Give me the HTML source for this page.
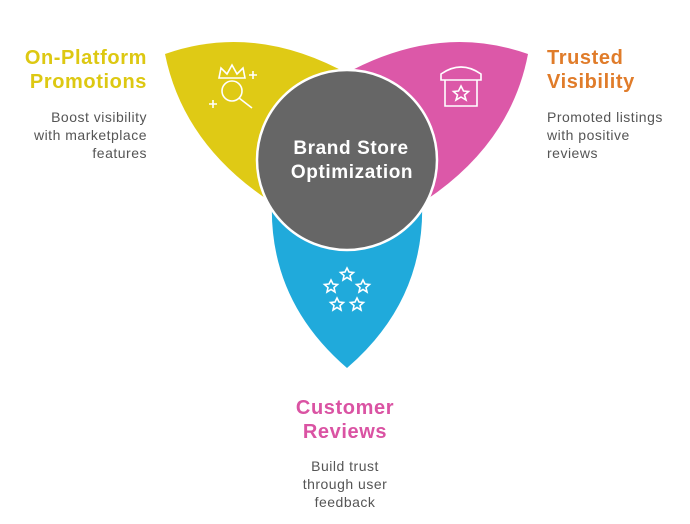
<!DOCTYPE html>
<html><head><meta charset="utf-8"><style>
body{margin:0;width:690px;height:519px;background:#fff;overflow:hidden;font-family:"Liberation Sans",sans-serif}
</style></head><body>
<svg width="690" height="519" xmlns="http://www.w3.org/2000/svg" font-family="Liberation Sans, sans-serif">
<path d="M165,54 Q255,22 350,75 L350,205 L268,200 Q183,143 165,54 Z" fill="#DFCA15"/>
<path d="M528,54 Q438,22 343,75 L343,205 L426,200 Q511,143 528,54 Z" fill="#DC58A8"/>
<path d="M272,200 Q268,300 347,368 Q426,300 422,200 Z" fill="#20AADB"/>
<circle cx="347" cy="160" r="90" fill="#666666" stroke="#fff" stroke-width="2.5"/>
<text x="351" y="154" fill="#fff" font-size="19" font-weight="bold" text-anchor="middle" letter-spacing="0.6">Brand Store</text>
<text x="352" y="178" fill="#fff" font-size="19" font-weight="bold" text-anchor="middle" letter-spacing="0.6">Optimization</text>
<g stroke="#fff" stroke-width="1.6" fill="none">
<path d="M219,78 L221,68 L227,74 L232,65 L237,74 L243,68 L245,78 Z"/>
<circle cx="232" cy="91" r="10"/><path d="M239,98 L252,108"/>
<path d="M249,75 h8 M253,71 v8 M209,104 h8 M213,100 v8"/>
<path d="M441,74 Q461,60 481,74 L481,80 L441,80 Z"/>
<path d="M445,80 v26 h32 v-26"/>
<path d="M461,86 l2.5,5 5,.5 -4,3.5 1.5,5 -5,-3 -5,3 1.5,-5 -4,-3.5 5,-.5 Z"/>
<g id="s"><path d="M347,268 l2,4 4.5,.5 -3.5,3 1,4.5 -4,-2.5 -4,2.5 1,-4.5 -3.5,-3 4.5,-.5 Z"/></g>
<use href="#s" x="-16" y="12"/><use href="#s" x="16" y="12"/>
<use href="#s" x="-10" y="30"/><use href="#s" x="10" y="30"/>
</g>
<g font-weight="bold" font-size="20" letter-spacing="0.6">
<text x="147" y="64" fill="#DDC812" text-anchor="end">On-Platform</text>
<text x="147" y="88" fill="#DDC812" text-anchor="end">Promotions</text>
<text x="547" y="64" fill="#E07C2A">Trusted</text>
<text x="547" y="88" fill="#E07C2A">Visibility</text>
<text x="345" y="414" fill="#DA53A3" text-anchor="middle">Customer</text>
<text x="345" y="438" fill="#DA53A3" text-anchor="middle">Reviews</text>
</g>
<g font-size="14" fill="#555" letter-spacing="0.5">
<text x="147" y="122" text-anchor="end">Boost visibility</text>
<text x="147" y="140" text-anchor="end">with marketplace</text>
<text x="147" y="158" text-anchor="end">features</text>
<text x="547" y="122">Promoted listings</text>
<text x="547" y="140">with positive</text>
<text x="547" y="158">reviews</text>
<text x="345" y="471" text-anchor="middle">Build trust</text>
<text x="345" y="489" text-anchor="middle">through user</text>
<text x="345" y="507" text-anchor="middle">feedback</text>
</g>
</svg>
</body></html>
